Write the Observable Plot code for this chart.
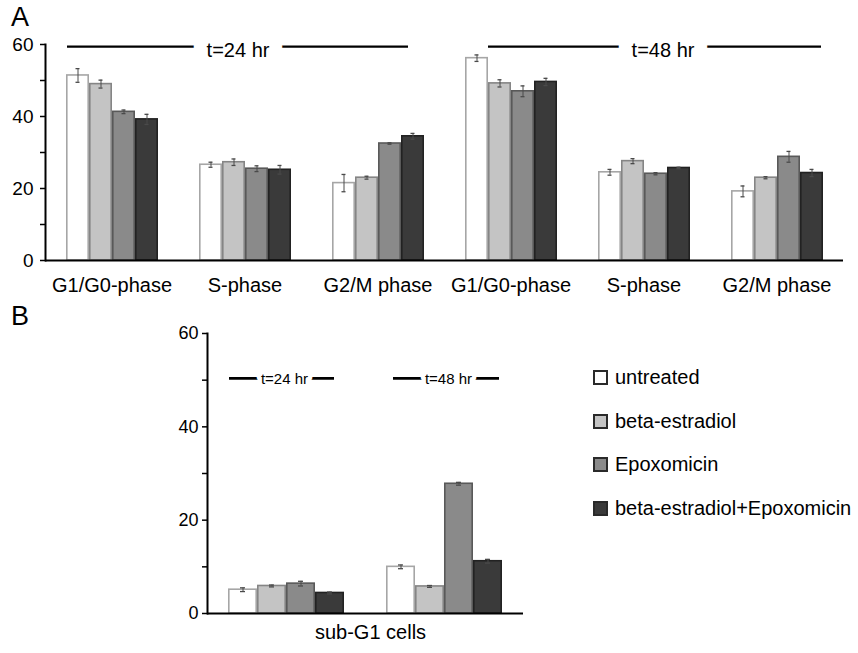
<!DOCTYPE html>
<html>
<head>
<meta charset="utf-8">
<script src="https://cdn.jsdelivr.net/npm/d3@7"></script>
<script src="https://cdn.jsdelivr.net/npm/@observablehq/plot@0.6"></script>
<style>
  body { margin: 0; background: #fff; font-family: "Liberation Sans", Arial, sans-serif; }
  #wrap { position: relative; width: 858px; height: 653px; overflow: hidden; }
  #panelA { position: absolute; left: 0; top: 0; }
  #panelB { position: absolute; left: 0; top: 300px; }
  .tag { position: absolute; font-size: 27px; line-height: 1; color: #000; }
  #legend { position: absolute; left: 593px; top: 356px; }
  #legend .item { display: flex; align-items: center; height: 43.5px; font-size: 20px; color: #000; }
  #legend .sw { width: 11px; height: 11px; border: 2px solid #2a2a2a; margin-right: 7px; box-sizing: content-box; }
</style>
</head>
<body>
<div id="wrap">
  <div id="panelA"></div>
  <div id="panelB"></div>
  <div class="tag" style="left:11px; top:4px;">A</div>
  <div class="tag" style="left:11px; top:303px;">B</div>
  <div id="legend"></div>
</div>
<script>
// ---------------- data ----------------
const treatments = ["untreated", "beta-estradiol", "Epoxomicin", "beta-estradiol+Epoxomicin"];
const phases = ["G1/G0-phase", "S-phase", "G2/M phase"];
const times = ["t=24 hr", "t=48 hr"];

// Panel A: mean % of cells per phase (rows = phases, columns = treatments)
const meanA24 = [
  [51.4, 49.0, 41.3, 39.2],
  [26.6, 27.3, 25.5, 25.2],
  [21.5, 23.0, 32.5, 34.5]
];
const errA24 = [
  [1.9, 1.1, 0.5, 1.4],
  [0.7, 0.9, 0.8, 1.2],
  [2.4, 0.4, 0.2, 0.8]
];
const meanA48 = [
  [56.2, 49.2, 47.0, 49.6],
  [24.5, 27.6, 24.1, 25.7],
  [19.2, 23.0, 28.8, 24.3]
];
const errA48 = [
  [0.9, 1.0, 1.5, 1.0],
  [0.8, 0.7, 0.3, 0.2],
  [1.5, 0.3, 1.5, 1.0]
];

// Panel B: sub-G1 cells
const subG1Label = "sub-G1 cells";
const meanB24 = [5.1, 5.9, 6.4, 4.4];
const errB24 = [0.4, 0.2, 0.5, 0.2];
const meanB48 = [10.0, 5.8, 27.8, 11.2];
const errB48 = [0.4, 0.2, 0.3, 0.4];

// axis ticks
const yTicks = [0, 10, 20, 30, 40, 50, 60];
const yTickLabels = [0, 20, 40, 60];

// annotation levels (data units)
const annotLineA = 59.4, annotTextA = 58.4;
const annotLineB = 50.4, annotTextB = 50.2;

// styles
const fills = ["#ffffff", "#c4c4c4", "#8a8a8a", "#3a3a3a"];
const strokes = ["#a6a6a6", "#858585", "#595959", "#222222"];
const errColor = "#4a4a4a";
const FONT = "Liberation Sans, Arial, Helvetica, sans-serif";

// ---------------- build tables ----------------
const groupsA = times.flatMap(t => phases.map(p => t + "|" + p));
const rowsA = times.flatMap((t, ti) => phases.flatMap((p, pi) => treatments.map((tr, k) => ({
  group: t + "|" + p, time: t, phase: p, treatment: tr,
  value: (ti === 0 ? meanA24 : meanA48)[pi][k],
  err: (ti === 0 ? errA24 : errA48)[pi][k]
}))));
const rowsB = times.flatMap((t, ti) => treatments.map((tr, k) => ({
  time: t, treatment: tr,
  value: (ti === 0 ? meanB24 : meanB48)[k],
  err: (ti === 0 ? errB24 : errB48)[k]
})));

function barMarks(rows, fxKey, capInset) {
  const out = [];
  treatments.forEach((tr, k) => {
    out.push(Plot.barY(rows.filter(d => d.treatment === tr), {
      fx: fxKey, x: "treatment", y: "value",
      fill: fills[k], stroke: strokes[k], strokeWidth: 1.6,
      insetLeft: 0.8, insetRight: 0.8
    }));
  });
  out.push(Plot.ruleX(rows, {fx: fxKey, x: "treatment", y1: d => d.value - d.err, y2: d => d.value + d.err, stroke: errColor, strokeWidth: 1}));
  out.push(Plot.tickY(rows, {fx: fxKey, x: "treatment", y: d => d.value + d.err, stroke: errColor, strokeWidth: 1.3, insetLeft: capInset, insetRight: capInset}));
  out.push(Plot.tickY(rows, {fx: fxKey, x: "treatment", y: d => d.value - d.err, stroke: errColor, strokeWidth: 1.3, insetLeft: capInset, insetRight: capInset}));
  return out;
}

// ---------------- panel A ----------------
const plotA = Plot.plot({
  width: 858, height: 300,
  marginLeft: 45, marginRight: 15, marginTop: 44, marginBottom: 40,
  style: {fontFamily: FONT, fontSize: "19px", color: "#000", background: "transparent", overflow: "visible"},
  fx: {domain: groupsA, paddingInner: 0, paddingOuter: 0, label: null},
  x: {domain: treatments, paddingInner: 0, paddingOuter: 0.78, axis: null},
  y: {domain: [0, 60], label: null},
  marks: [
    ...barMarks(rowsA, "group", 9.5),
    Plot.ruleY([0], {stroke: "#000", strokeWidth: 2}),
    Plot.frame({anchor: "left", facetAnchor: "left", stroke: "#000", strokeWidth: 2}),
    Plot.axisY({ticks: yTicks, tickFormat: d => yTickLabels.includes(d) ? String(d) : "", tickSize: 5, tickPadding: 7, strokeWidth: 1.5, label: null, fontSize: 19}),
    Plot.axisFx({anchor: "bottom", tickSize: 0, tickPadding: 17, tickFormat: k => k.split("|")[1], label: null, fontSize: 20}),
    // t=24 hr bracket line
    Plot.ruleY([annotLineA], {fx: () => groupsA[0], insetLeft: 22, stroke: "#000", strokeWidth: 2.2}),
    Plot.ruleY([annotLineA], {fx: () => groupsA[1], stroke: "#000", strokeWidth: 2.2}),
    Plot.ruleY([annotLineA], {fx: () => groupsA[2], insetRight: 36, stroke: "#000", strokeWidth: 2.2}),
    // t=48 hr bracket line
    Plot.ruleY([annotLineA], {fx: () => groupsA[3], insetLeft: 44, stroke: "#000", strokeWidth: 2.2}),
    Plot.ruleY([annotLineA], {fx: () => groupsA[4], stroke: "#000", strokeWidth: 2.2}),
    Plot.ruleY([annotLineA], {fx: () => groupsA[5], insetRight: 22, stroke: "#000", strokeWidth: 2.2}),
    Plot.text([times[0]], {fx: () => groupsA[1], y: () => annotTextA, text: d => d, fontSize: 20, fill: "#000", stroke: "#fff", strokeWidth: 26, paintOrder: "stroke", dx: -7}),
    Plot.text([times[1]], {fx: () => groupsA[4], y: () => annotTextA, text: d => d, fontSize: 20, fill: "#000", stroke: "#fff", strokeWidth: 26, paintOrder: "stroke", dx: 19})
  ]
});
document.getElementById("panelA").appendChild(plotA);

// ---------------- panel B ----------------
const plotB = Plot.plot({
  width: 858, height: 353,
  marginLeft: 207, marginRight: 335, marginTop: 33, marginBottom: 40,
  style: {fontFamily: FONT, fontSize: "18px", color: "#000", background: "transparent", overflow: "visible"},
  fx: {domain: times, paddingInner: 0, paddingOuter: 0, axis: null, label: null},
  x: {domain: treatments, paddingInner: 0, paddingOuter: 0.678, axis: null},
  y: {domain: [0, 60], label: null},
  marks: [
    ...barMarks(rowsB, "time", 12),
    Plot.ruleY([0], {stroke: "#000", strokeWidth: 2}),
    Plot.frame({anchor: "left", facetAnchor: "left", stroke: "#000", strokeWidth: 2}),
    Plot.axisY({ticks: yTicks, tickFormat: d => yTickLabels.includes(d) ? String(d) : "", tickSize: 5, tickPadding: 4, strokeWidth: 1.5, label: null, fontSize: 18}),
    Plot.ruleY([annotLineB], {fx: () => times[0], insetLeft: 22, insetRight: 31, stroke: "#000", strokeWidth: 2.8}),
    Plot.ruleY([annotLineB], {fx: () => times[1], insetLeft: 28, insetRight: 24, stroke: "#000", strokeWidth: 2.8}),
    Plot.text([times[0]], {fx: () => times[0], y: () => annotTextB, text: d => d, fontSize: 15, fill: "#000", stroke: "#fff", strokeWidth: 9, paintOrder: "stroke", dx: -2}),
    Plot.text([times[1]], {fx: () => times[1], y: () => annotTextB, text: d => d, fontSize: 15, fill: "#000", stroke: "#fff", strokeWidth: 9, paintOrder: "stroke", dx: 4}),
    Plot.text([subG1Label], {fx: () => times[1], frameAnchor: "bottom-left", textAnchor: "middle", text: d => d, fontSize: 20, fill: "#000", dy: 25, dx: 5})
  ]
});
document.getElementById("panelB").appendChild(plotB);

// ---------------- legend ----------------
const legend = d3.select("#legend");
treatments.forEach((t, i) => {
  const row = legend.append("div").attr("class", "item");
  row.append("span").attr("class", "sw").style("background", fills[i]);
  row.append("span").text(t);
});
</script>
</body>
</html>
